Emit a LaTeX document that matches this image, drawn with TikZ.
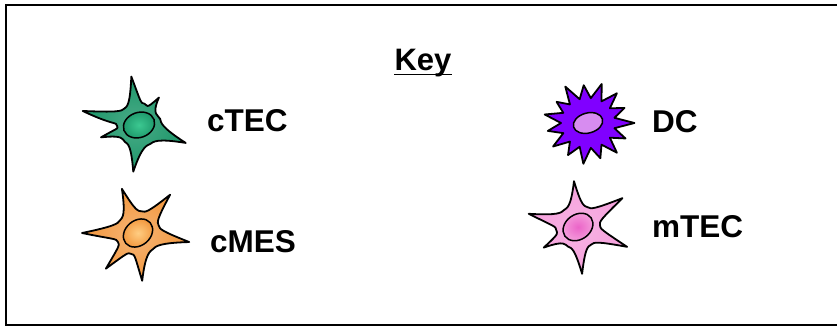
\documentclass[tikz,border=0pt]{standalone}
\usepackage{fontspec}
\setmainfont{Liberation Sans}

\definecolor{ctecgreen}{RGB}{28,150,105}
\definecolor{ctecnuc}{RGB}{60,200,145}
\definecolor{cmesorange}{RGB}{242,150,60}
\definecolor{cmesnuc}{RGB}{255,205,130}
\definecolor{dcpurple}{RGB}{128,0,255}
\definecolor{dcnuc}{RGB}{215,140,240}
\definecolor{mtecpink}{RGB}{245,160,220}
\definecolor{mtecnuc}{RGB}{235,100,200}

\tikzset{
  cellline/.style={draw=black, line width=1.8pt, line join=round},
  nucleus/.style={draw=black, line width=1.5pt},
  celltext/.style={font=\bfseries\fontsize{31.5}{36}\selectfont, anchor=base west, inner sep=0pt},
}

% star shaped cell body: first valley angle, valley radius, arms as angle/length/next valley
\newcommand\starcell[3]{(#1:#2)
  foreach \a/\l/\v [remember=\v as \vp (initially #1)] in {#3} {
    .. controls ({\vp+10}:#2) and ({\a-15}:{0.45*\l}) .. (\a:\l)
    .. controls ({\a+15}:{0.45*\l}) and ({\v-10}:#2) .. (\v:#2)
  } -- cycle}

\begin{document}
\begin{tikzpicture}[x=1pt,y=1pt]
\useasboundingbox (0,0) rectangle (837,327);
\draw[line width=2pt] (6,2) rectangle (850,322);

% heading
\node[font=\bfseries\fontsize{31}{36}\selectfont, anchor=base, inner sep=0pt] (key) at (423,256) {Key};
\draw[line width=1.8pt] ([yshift=-3.5pt]key.base west) -- ([yshift=-3.5pt]key.base east);

% cTEC
\begin{scope}[shift={(139,202)}]
  \draw[cellline, inner color=ctecgreen!80!white, outer color=ctecgreen]
    \starcell{-130}{22}{-97/47/-59, -21/50/16, 54/34/76, 99/49/132, 166/58/182, 198/40/230};
  \draw[nucleus, rotate=20, inner color=ctecnuc, outer color=ctecgreen] (0,0) ellipse (16 and 12.5);
\end{scope}
\node[celltext] (ctec) at (207,195) {cTEC};

% cMES
\begin{scope}[shift={(138,94)}]
  \draw[cellline, inner color=cmesorange!70!white, outer color=cmesorange]
    \starcell{-108}{22}{-85/48/-47, -10/52/20, 50/50/80, 110/47/145, 180/56/204, 228/48/252};
  \draw[nucleus, rotate=40, inner color=cmesnuc, outer color=cmesorange] (0,0) ellipse (16 and 12.5);
\end{scope}
\node[celltext] (cmes) at (210,75) {cMES};

% DC
\begin{scope}[shift={(588,204)}]
  \begin{scope}[xscale=1.08]
    \draw[cellline, fill=dcpurple] (-12:25)
      foreach \a/\l in {0/43, 24/37, 48/40, 72/41, 96/38, 120/42, 144/36, 168/41,
                        192/38, 216/40, 240/37, 264/41, 288/37, 312/40, 336/38} {
        -- (\a:\l) -- ({\a+12}:25)
      } -- cycle;
  \end{scope}
  \draw[nucleus, rotate=15, fill=dcnuc] (0,0) ellipse (15 and 10);
\end{scope}
\node[celltext] (dc) at (652,194) {DC};

% mTEC
\begin{scope}[shift={(578,100)}]
  \draw[cellline, inner color=mtecpink!80!white, outer color=mtecpink]
    \starcell{-117}{22}{-85/47/-53, -22/53/5, 33/53/64, 95/46/130, 165/51/188, 211/40/243};
  \draw[nucleus, rotate=35, inner color=mtecnuc, outer color=mtecpink] (0,0) ellipse (16 and 12.5);
\end{scope}
\node[celltext] (mtec) at (652,90) {mTEC};
\end{tikzpicture}
\end{document}
